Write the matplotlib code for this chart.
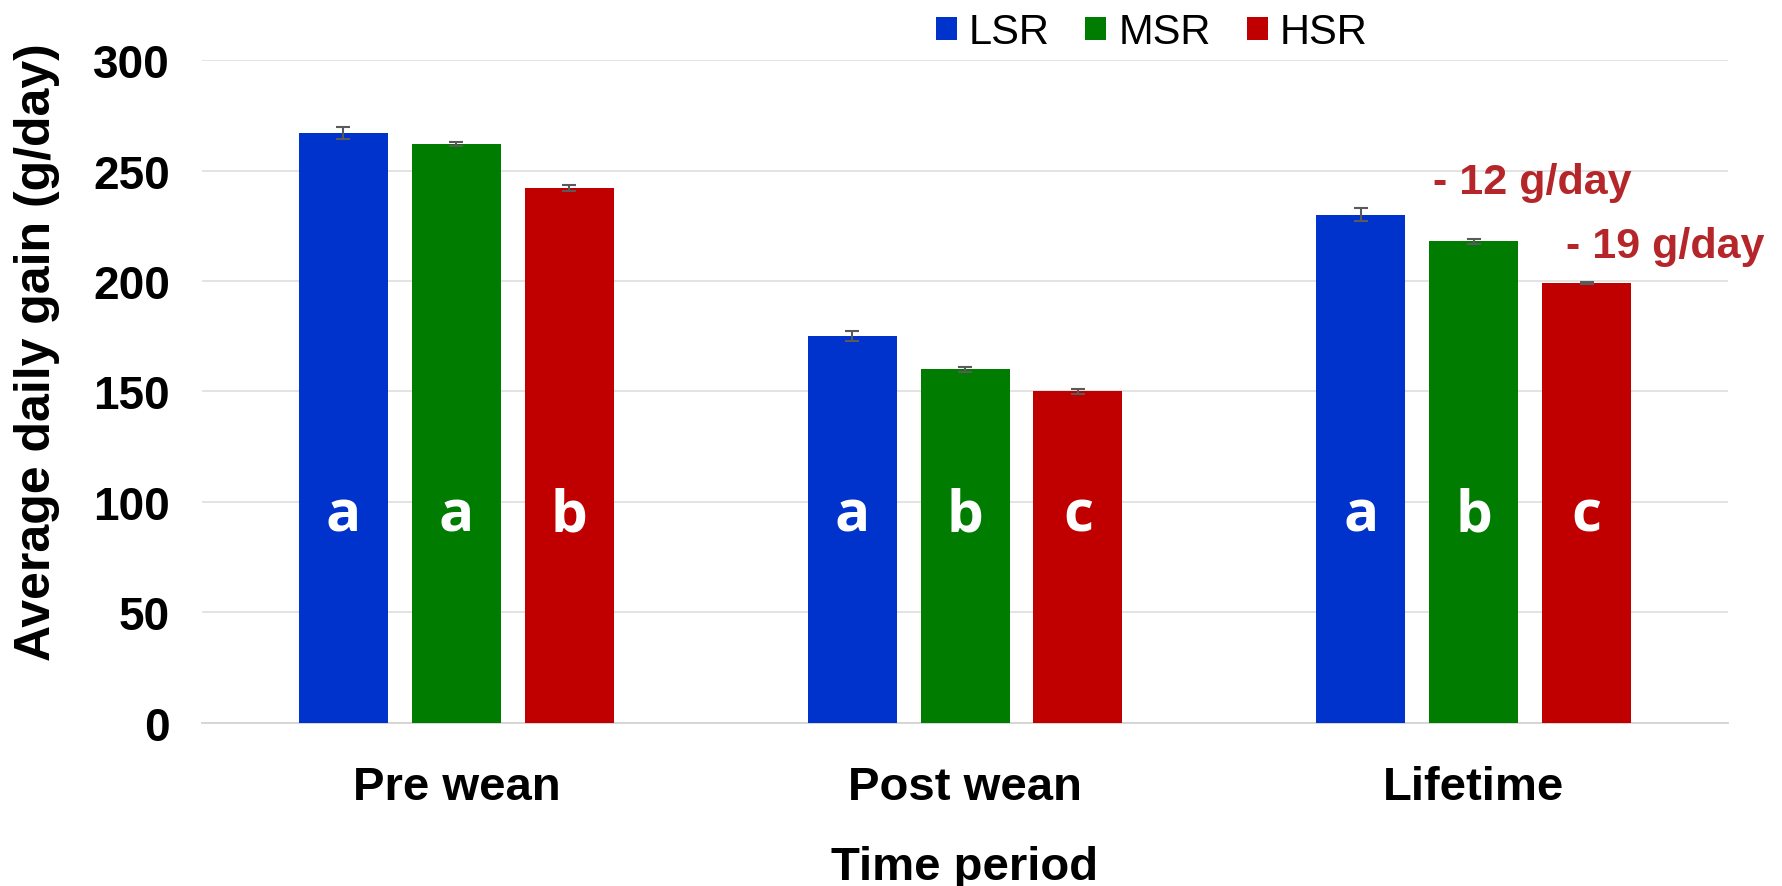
import numpy as np
import matplotlib.pyplot as plt

plt.rcParams['font.family'] = ['Liberation Sans', 'DejaVu Sans']

periods = ["Pre wean", "Post wean", "Lifetime"]
groups = ["LSR", "MSR", "HSR"]
colors = ["#0033CC", "#007D00", "#C00000"]

# mean ADG (g/day) per group, in period order
lsr = [267, 175, 230]
msr = [262, 160, 218]
hsr = [242, 150, 199]
lsr_err = [2.7, 2.3, 2.9]
msr_err = [1.0, 1.2, 1.1]
hsr_err = [1.3, 1.0, 0.4]
letters = [["a", "a", "b"], ["a", "b", "c"], ["a", "b", "c"]]

fig = plt.figure(figsize=(17.83, 8.87), dpi=100)
ax = fig.add_axes([0.1133, 0.1838, 0.8559, 0.7474])

x = np.arange(len(periods))
width = 0.175
step = 0.222
means = [lsr, msr, hsr]
errs = [lsr_err, msr_err, hsr_err]
for i, (g, c) in enumerate(zip(groups, colors)):
    pos = x + (i - 1) * step
    ax.bar(pos, means[i], width, color=c, label=g, zorder=3)
    ax.errorbar(pos, means[i], yerr=errs[i], fmt='none', ecolor='#5A5A5A',
                elinewidth=1.5, capsize=5, capthick=1.5, zorder=4)
    for j in range(len(periods)):
        ax.text(pos[j], 87, letters[j][i], color='white', fontsize=42,
                family=['Open Sans', 'DejaVu Sans'], fontweight='bold',
                ha='center', va='baseline', zorder=5)

# drop in lifetime gain from one group to the next
ax.text(2.115, 240, f"- {lsr[2] - msr[2]} g/day", color='#B5262A', fontsize=31,
        fontweight='bold', ha='center', va='baseline')
ax.text(2.377, 211, f"- {msr[2] - hsr[2]} g/day", color='#B5262A', fontsize=31,
        fontweight='bold', ha='center', va='baseline')

ax.set_ylim(0, 300)
ax.set_xlim(-0.5, 2.5)
ax.set_yticks(range(0, 301, 50))
ax.set_xticks(x)
ax.set_xticklabels(periods)
ax.tick_params(axis='y', length=0, labelsize=33, pad=23)
ax.tick_params(axis='x', length=0, labelsize=34, pad=30)
for lab in ax.get_xticklabels() + ax.get_yticklabels():
    lab.set_fontweight('bold')
ax.grid(axis='y', color='#E3E3E3', linewidth=1.4, zorder=0)
for s in ['top', 'right', 'left']:
    ax.spines[s].set_visible(False)
ax.spines['bottom'].set_color('#D6D6D6')
ax.spines['bottom'].set_linewidth(1.4)

ax.set_ylabel("Average daily gain (g/day)", fontsize=36, fontweight='bold')
ax.yaxis.set_label_coords(-0.093, 0.561)
ax.set_xlabel("Time period", fontsize=34, fontweight='bold', labelpad=26)

fig.legend(*ax.get_legend_handles_labels(), loc='center', bbox_to_anchor=(0.646, 0.9625),
           ncol=3, frameon=False, fontsize=30, handlelength=0.5, handleheight=0.5,
           handletextpad=0.3, columnspacing=0.85, borderpad=0.1)

fig.savefig("out.png", dpi=100)
